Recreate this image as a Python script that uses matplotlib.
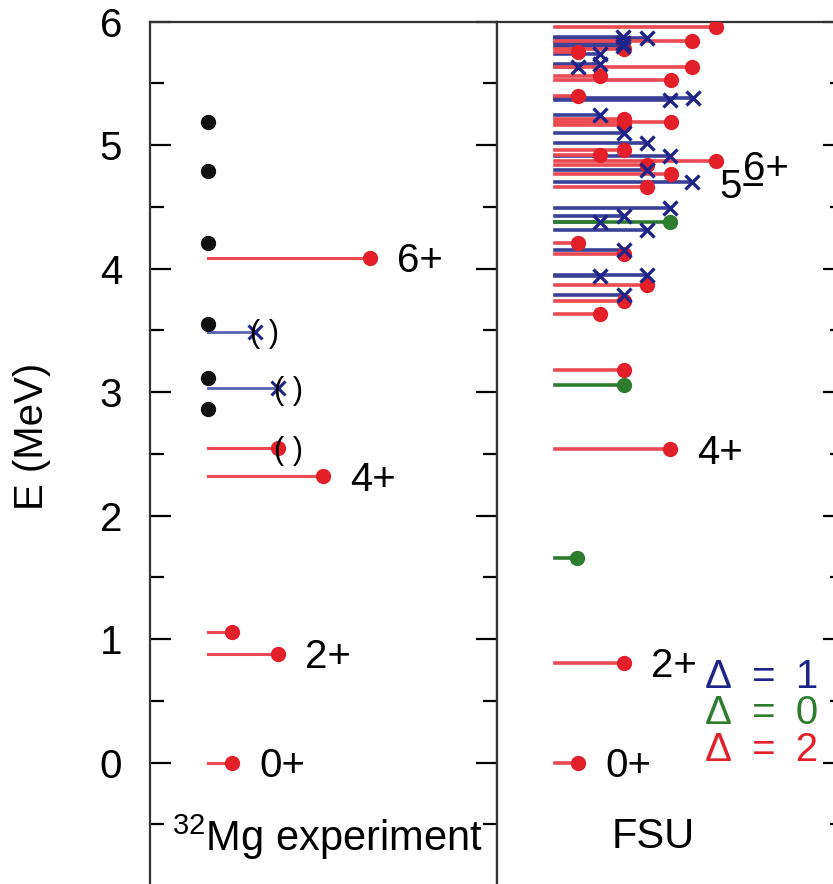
import matplotlib
matplotlib.use("Agg")
import matplotlib.pyplot as plt

plt.rcParams['font.family'] = ['Liberation Sans', 'DejaVu Sans']
plt.rcParams['mathtext.fontset'] = 'custom'
plt.rcParams['mathtext.rm'] = 'Liberation Sans'
plt.rcParams['mathtext.default'] = 'regular'

RED = '#e3202a'
RED_LINE = '#ea4a50'
BLUE = '#1e2488'
BLUE_LINE = '#3a3f98'
GREEN = '#2e7d2e'
BLACK = '#111111'

# ---------------- data ----------------
# experiment: unassigned levels (black dots)
exp_black_E = [5.19, 4.79, 4.21, 3.55, 3.115, 2.86]
# experiment: levels with strengths
exp_E = [4.09, 3.49, 3.03, 2.547, 2.318, 1.058, 0.883, 0.0]
exp_L = [1.62, 0.47, 0.70, 0.70, 1.15, 0.24, 0.70, 0.24]
exp_D = [2, 1, 1, 2, 2, 2, 2, 2]
exp_paren = [False, True, True, True, False, False, False, False]
exp_labels = ['6+', '', '', '', '4+', '', '2+', '0+']

# FSU levels, Delta = 2
fsu2_E = [5.96, 5.84, 5.78, 5.755, 5.63, 5.56, 5.525, 5.40, 5.21, 5.185, 5.16,
          4.96, 4.92, 4.87, 4.84, 4.77, 4.665, 4.21, 4.12, 3.87, 3.735, 3.635,
          3.18, 2.54, 0.81, 0.0]
fsu2_L = [1.61, 1.37, 0.69, 0.23, 1.37, 0.45, 1.16, 0.23, 0.69, 1.16, 0.69,
          0.69, 0.45, 1.61, 0.92, 1.16, 0.92, 0.23, 0.69, 0.92, 0.69, 0.45,
          0.69, 1.15, 0.69, 0.23]
# FSU levels, Delta = 1
fsu1_E = [5.88, 5.865, 5.83, 5.80, 5.735, 5.655, 5.63, 5.38, 5.365, 5.245, 5.10,
          5.02, 4.915, 4.80, 4.70, 4.49, 4.43, 4.375, 4.315, 4.15, 3.95, 3.94, 3.79]
fsu1_L = [0.68, 0.92, 0.68, 0.68, 0.45, 0.45, 0.23, 1.38, 1.15, 0.45, 0.69,
          0.92, 1.15, 0.92, 1.37, 1.15, 0.69, 0.45, 0.92, 0.69, 0.92, 0.45, 0.69]
# FSU levels, Delta = 0
fsu0_E = [4.375, 3.06, 1.66]
fsu0_L = [1.15, 0.69, 0.22]

fsu_label_E = [4.84, 4.69, 2.54, 0.81, 0.0]
fsu_label_L = [1.61, 1.37, 1.15, 0.69, 0.23]
fsu_labels = ['6+', '5\u2212', '4+', '2+', '0+']

legend_texts = ['\u0394\u2002=\u20021', '\u0394\u2002=\u20020', '\u0394\u2002=\u20022']
legend_E = [0.69, 0.40, 0.105]

YTICKS = [0, 1, 2, 3, 4, 5, 6]

FS = 29

# ---------------- figure ----------------
W, H = 833, 884
fig = plt.figure(figsize=(W / 100, H / 100), dpi=100)

ax_bot = 1 - 886.2 / H
ax_h = (886.2 - 21.7) / H
axL = fig.add_axes([150 / W, ax_bot, 347 / W, ax_h])
axR = fig.add_axes([497 / W, ax_bot, 347 / W, ax_h])

for ax in (axL, axR):
    ax.set_ylim(-1, 6)
    ax.set_xlim(-0.58, 2.89)
    ax.set_xticks([])
    ax.set_yticks(YTICKS)
    ax.set_yticks([v + 0.5 for v in [-1] + YTICKS[:-1]], minor=True)
    for s in ax.spines.values():
        s.set_linewidth(1.6)
        s.set_color('#333333')

axL.tick_params(axis='y', which='both', direction='in', left=True, right=True,
                labelsize=FS, pad=20, width=1.6)
axL.tick_params(axis='y', which='major', length=15)
axL.tick_params(axis='y', which='minor', length=10)
axR.tick_params(axis='y', which='both', direction='in', left=False, right=True,
                labelleft=False, width=1.6)
axR.tick_params(axis='y', which='major', length=15)
axR.tick_params(axis='y', which='minor', length=10)

axL.set_ylabel('E (MeV)', fontsize=FS)
axL.yaxis.set_label_coords(-0.285, 0.52)

col = {2: (RED_LINE, RED), 1: (BLUE_LINE, BLUE), 0: (GREEN, GREEN)}

# experiment panel
axL.plot([0] * len(exp_black_E), exp_black_E, 'o', color=BLACK, ms=10, zorder=4)
for E, L, d, p, lab in zip(exp_E, exp_L, exp_D, exp_paren, exp_labels):
    lc, mc = col[d]
    if d == 1:
        axL.plot([0, L], [E, E], '-', color='#5a64b0', lw=2, zorder=2)
        axL.plot([L], [E], 'x', color=BLUE, ms=10, mew=2.2, zorder=3)
    else:
        axL.plot([0, L], [E, E], '-', color=lc, lw=2.2, zorder=2)
        axL.plot([L], [E], 'o', color=mc, ms=10, zorder=3)
    if p:
        axL.text(L + 0.1, E - 0.02, '( )', fontsize=22, ha='center', va='center')
    if lab:
        axL.text(L + 0.27, E - 0.03, lab, fontsize=FS, ha='left', va='center')

axL.text(1.195, -0.6, '$^{32}$Mg experiment', fontsize=30, ha='center', va='center')

# FSU panel
for E, L in zip(fsu1_E, fsu1_L):
    axR.plot([0, L], [E, E], '-', color=BLUE_LINE, lw=2.6, zorder=2)
for E, L in zip(fsu2_E, fsu2_L):
    axR.plot([0, L], [E, E], '-', color=RED_LINE, lw=2.6, zorder=2)
for E, L in zip(fsu0_E, fsu0_L):
    axR.plot([0, L], [E, E], '-', color=GREEN, lw=2.6, zorder=2)
axR.plot(fsu2_L, fsu2_E, 'o', color=RED, ms=10, zorder=3)
axR.plot(fsu1_L, fsu1_E, 'x', color=BLUE, ms=10, mew=2.4, zorder=4)
axR.plot(fsu0_L, fsu0_E, 'o', color=GREEN, ms=10, zorder=3)

for E, L, lab in zip(fsu_label_E, fsu_label_L, fsu_labels):
    axR.text(L + 0.27, E - 0.03, lab, fontsize=FS, ha='left', va='center')

for t, E, c in zip(legend_texts, legend_E, [BLUE, GREEN, RED]):
    axR.text(1.50, E, t, fontsize=FS, ha='left', va='center', color=c)

axR.text(0.98, -0.6, 'FSU', fontsize=30, ha='center', va='center')

fig.savefig('out.png', dpi=100)
